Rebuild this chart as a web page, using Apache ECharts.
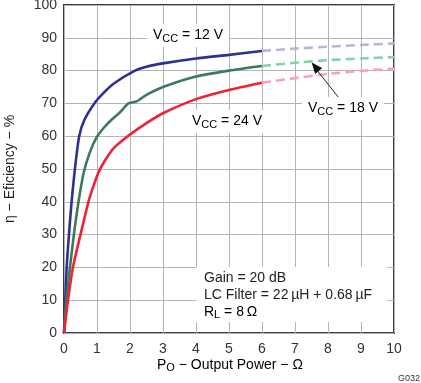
<!DOCTYPE html>
<html>
<head>
<meta charset="utf-8">
<script src="https://cdn.jsdelivr.net/npm/echarts@6/dist/echarts.min.js"></script>
<style>
html,body{margin:0;padding:0;background:#fff;}
#c{width:421px;height:383px;}
</style>
</head>
<body>
<div id="c"></div>
<script>
// Data (x = output power, y = efficiency %)
var xTicks = [0,1,2,3,4,5,6,7,8,9,10];
var yTicks = [0,10,20,30,40,50,60,70,80,90,100];

var vcc12Solid = [[0,0],[0.04,10],[0.08,20],[0.15,30],[0.23,40],[0.33,50],[0.46,60],[0.62,65],[0.92,70],[1.2,73.2],[1.5,76],[2.15,80],[2.5,81.2],[3,82.2],[4,83.7],[5,84.8],[6,86.0]];
var vcc12Dashed = [[6,86.0],[7,86.7],[8,87.3],[9,87.8],[10,88.3]];

var vcc18Solid = [[0,0],[0.07,10],[0.18,20],[0.3,30],[0.44,40],[0.6,49],[0.78,55],[0.98,59.5],[1.2,62.5],[1.44,65],[1.7,67.3],[1.95,70],[2.2,70.6],[2.5,72.6],[3,75.0],[4,78.2],[5,80.0],[6,81.4]];
var vcc18Dashed = [[6,81.4],[7,82.4],[8,83.2],[9,83.7],[10,84.1]];

var vcc24Solid = [[0,0],[0.12,10],[0.27,20],[0.5,30],[0.74,40],[0.9,45],[1.07,49.5],[1.28,53.2],[1.5,56.3],[2,60.5],[2.5,64],[3,67],[4,71.3],[5,74.1],[6,76.3]];
var vcc24Dashed = [[6,76.3],[7,77.7],[8,79.0],[9,79.9],[10,80.6]];

var FONT = '"Liberation Sans", Arial, sans-serif';
var chart = echarts.init(document.getElementById('c'), null, {renderer:'canvas'});

function solid(data, color){
  return {type:'line', data:data, showSymbol:false, smooth:0.2,
    lineStyle:{color:color, width:2.6}, z:3, animation:false};
}
function dashed(data, color){
  return {type:'line', data:data, showSymbol:false, smooth:0.2,
    lineStyle:{color:color, width:2.6, type:[9,5]}, z:3, animation:false};
}

var sub = {fontSize:11, fontFamily:FONT, color:'#222', padding:[6,0,0,0]};
var base = {fontSize:14, fontFamily:FONT, color:'#222'};

function vccLabel(x, y, val){
  return {type:'text', left:x, top:y, z:20,
    style:{text:'{b|V}{s|CC}{b| = '+val+' V}', rich:{b:base, s:sub},
      backgroundColor:'#fff', padding:[3,6,3,6]}};
}

chart.setOption({
  animation:false,
  grid:{left:64, right:27, top:5, bottom:50, containLabel:false, outerBoundsMode:'none',
    show:true, borderColor:'#3c3c3c', borderWidth:2, backgroundColor:'transparent'},
  xAxis:{type:'value', min:0, max:10, interval:1,
    axisLine:{show:false}, axisTick:{show:false},
    splitLine:{show:true, lineStyle:{color:'#b4b4b4', width:1}},
    axisLabel:{fontSize:14, fontFamily:FONT, color:'#333', margin:9,
      formatter:function(v){return xTicks.indexOf(v)>=0? String(v):'';}}},
  yAxis:{type:'value', min:0, max:100, interval:10,
    name:'\u03B7 \u2212 Eficiency \u2212 %', nameLocation:'middle', nameRotate:90, nameGap:47,
    nameTextStyle:{fontSize:14, fontFamily:FONT, color:'#222'},
    axisLine:{show:false}, axisTick:{show:false},
    splitLine:{show:true, lineStyle:{color:'#b4b4b4', width:1}},
    axisLabel:{fontSize:14, fontFamily:FONT, color:'#333', margin:7,
      formatter:function(v){return yTicks.indexOf(v)>=0? String(v):'';}}},
  series:[
    solid(vcc12Solid,'#2e3192'), dashed(vcc12Dashed,'#b5b5de'),
    solid(vcc18Solid,'#3b7a5a'), dashed(vcc18Dashed,'#7fd6a8'),
    solid(vcc24Solid,'#ee2233'), dashed(vcc24Dashed,'#ff9cc4')
  ],
  graphic:[
    vccLabel(147, 24, '12'),
    vccLabel(186, 110, '24'),
    vccLabel(302, 97, '18'),
    {type:'line', z:19, shape:{x1:339, y1:98, x2:316, y2:69}, style:{stroke:'#222', lineWidth:1}},
    {type:'polygon', z:19, shape:{points:[[311.6,62.4],[322.2,68.1],[315.2,74.0]]}, style:{fill:'#111'}},
    {type:'rect', z:15, shape:{x:196, y:267, width:191, height:55}, style:{fill:'#fff'}},
    {type:'text', z:20, left:204, top:271, style:{text:'Gain = 20 dB', font:'14px '+FONT, fill:'#222'}},
    {type:'text', z:20, left:204, top:288, style:{text:'LC Filter = 22\u2009\u00B5H + 0.68\u2009\u00B5F', font:'14px '+FONT, fill:'#222'}},
    {type:'text', z:20, left:204, top:305, style:{text:'{b|R}{s|L}{b| = 8\u2009\u03A9}', rich:{b:base, s:sub}}},
    {type:'text', z:20, left:157, top:358, style:{text:'{b|P}{s|O}{b| \u2212 Output Power \u2212 \u03A9}', rich:{b:base, s:sub}}},
    {type:'text', z:20, left:398, top:374, style:{text:'G032', font:'9px '+FONT, fill:'#333'}}
  ]
});
</script>
</body>
</html>
